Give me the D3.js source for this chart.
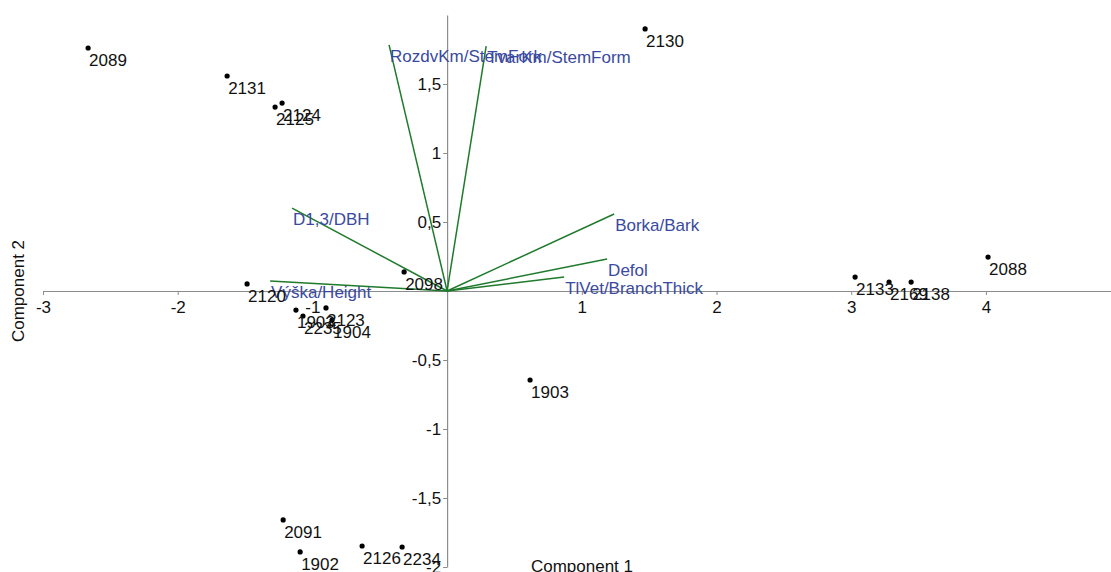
<!DOCTYPE html>
<html>
<head>
<meta charset="utf-8">
<script src="https://cdn.jsdelivr.net/npm/d3@7"></script>
<style>
  html, body { margin: 0; padding: 0; background: #fff; }
  svg { display: block; font-family: Arial, "Liberation Sans", sans-serif; }
</style>
</head>
<body>
<svg id="chart" width="1111" height="572"></svg>
<script>
// PCA biplot: sample scores (Component 1 / Component 2) and variable loadings.
const sampleIds = ["2089", "2131", "2124", "2125", "2130", "2088", "2133", "2169", "2138",
                   "2120", "2098", "1903", "2235", "2123", "1904", "1903", "2091", "1902", "2126", "2234"];
const comp1 = [-2.665, -1.633, -1.225, -1.277, 1.470, 4.016, 3.029, 3.281, 3.445,
               -1.485, -0.319, -1.122, -1.070, -0.899, -0.854, 0.616, -1.217, -1.091, -0.631, -0.334];
const comp2 = [1.761, 1.558, 1.362, 1.333, 1.899, 0.246, 0.101, 0.065, 0.065,
               0.051, 0.138, -0.138, -0.181, -0.123, -0.210, -0.645, -1.659, -1.891, -1.848, -1.855];

const loadingNames = ["RozdvKm/StemFork", "TvarKm/StemForm", "D1,3/DBH", "Borka/Bark",
                      "Defol", "TlVet/BranchThick", "Výška/Height"];
const load1 = [-0.431, 0.290, -1.151, 1.240, 1.188, 0.869, -1.314];
const load2 = [1.783, 1.775, 0.601, 0.558, 0.232, 0.101, 0.072];

const xTicks = [-3, -2, -1, 1, 2, 3, 4];
const yTicks = [-2, -1.5, -1, -0.5, 0.5, 1, 1.5];

const svg = d3.select("#chart");
const x = d3.scaleLinear().domain([-3, 5]).range([43, 1120.6]);
const y = d3.scaleLinear().domain([-2, 2]).range([567, 15]);
const fmt = v => String(v).replace(".", ",");

const axisColor = "#8c8c8c";
const vecColor = "#1f7a2c";
const vecText = "#3a4aa0";

// Axes through the origin
const gx = svg.append("g").attr("transform", `translate(0,${y(0)})`)
  .call(d3.axisBottom(x).tickValues(xTicks).tickFormat(fmt).tickSize(4).tickSizeOuter(0).tickPadding(6));
const gy = svg.append("g").attr("transform", `translate(${x(0)},0)`)
  .call(d3.axisLeft(y).tickValues(yTicks).tickFormat(fmt).tickSize(4).tickSizeOuter(0).tickPadding(2));
[gx, gy].forEach(g => {
  g.select(".domain").attr("stroke", axisColor).attr("stroke-width", 1.2);
  g.selectAll(".tick line").attr("stroke", axisColor);
  g.selectAll(".tick text").attr("fill", "#111").style("font-size", "17px");
});

// Loading vectors
const loadings = loadingNames.map((n, i) => ({ name: n, a: load1[i], b: load2[i] }));
svg.append("g").selectAll("line").data(loadings).join("line")
  .attr("x1", x(0)).attr("y1", y(0))
  .attr("x2", d => x(d.a)).attr("y2", d => y(d.b))
  .attr("stroke", vecColor).attr("stroke-width", 1.5);
svg.append("g").selectAll("text").data(loadings).join("text")
  .attr("x", d => x(d.a) + 1).attr("y", d => y(d.b) + 17)
  .attr("fill", vecText).style("font-size", "17px")
  .text(d => d.name);

// Sample scores
const samples = sampleIds.map((id, i) => ({ id, a: comp1[i], b: comp2[i] }));
const gs = svg.append("g");
gs.selectAll("circle").data(samples).join("circle")
  .attr("cx", d => x(d.a)).attr("cy", d => y(d.b)).attr("r", 2.6).attr("fill", "#000");
gs.selectAll("text").data(samples).join("text")
  .attr("x", d => x(d.a) + 1).attr("y", d => y(d.b) + 18)
  .attr("fill", "#111").style("font-size", "17px")
  .text(d => d.id);

// Axis titles
svg.append("text").attr("x", 582).attr("y", 572).attr("text-anchor", "middle")
  .attr("fill", "#111").style("font-size", "17px").text("Component 1");
svg.append("text").attr("transform", "translate(24,291) rotate(-90)").attr("text-anchor", "middle")
  .attr("fill", "#111").style("font-size", "17px").text("Component 2");
</script>
</body>
</html>
